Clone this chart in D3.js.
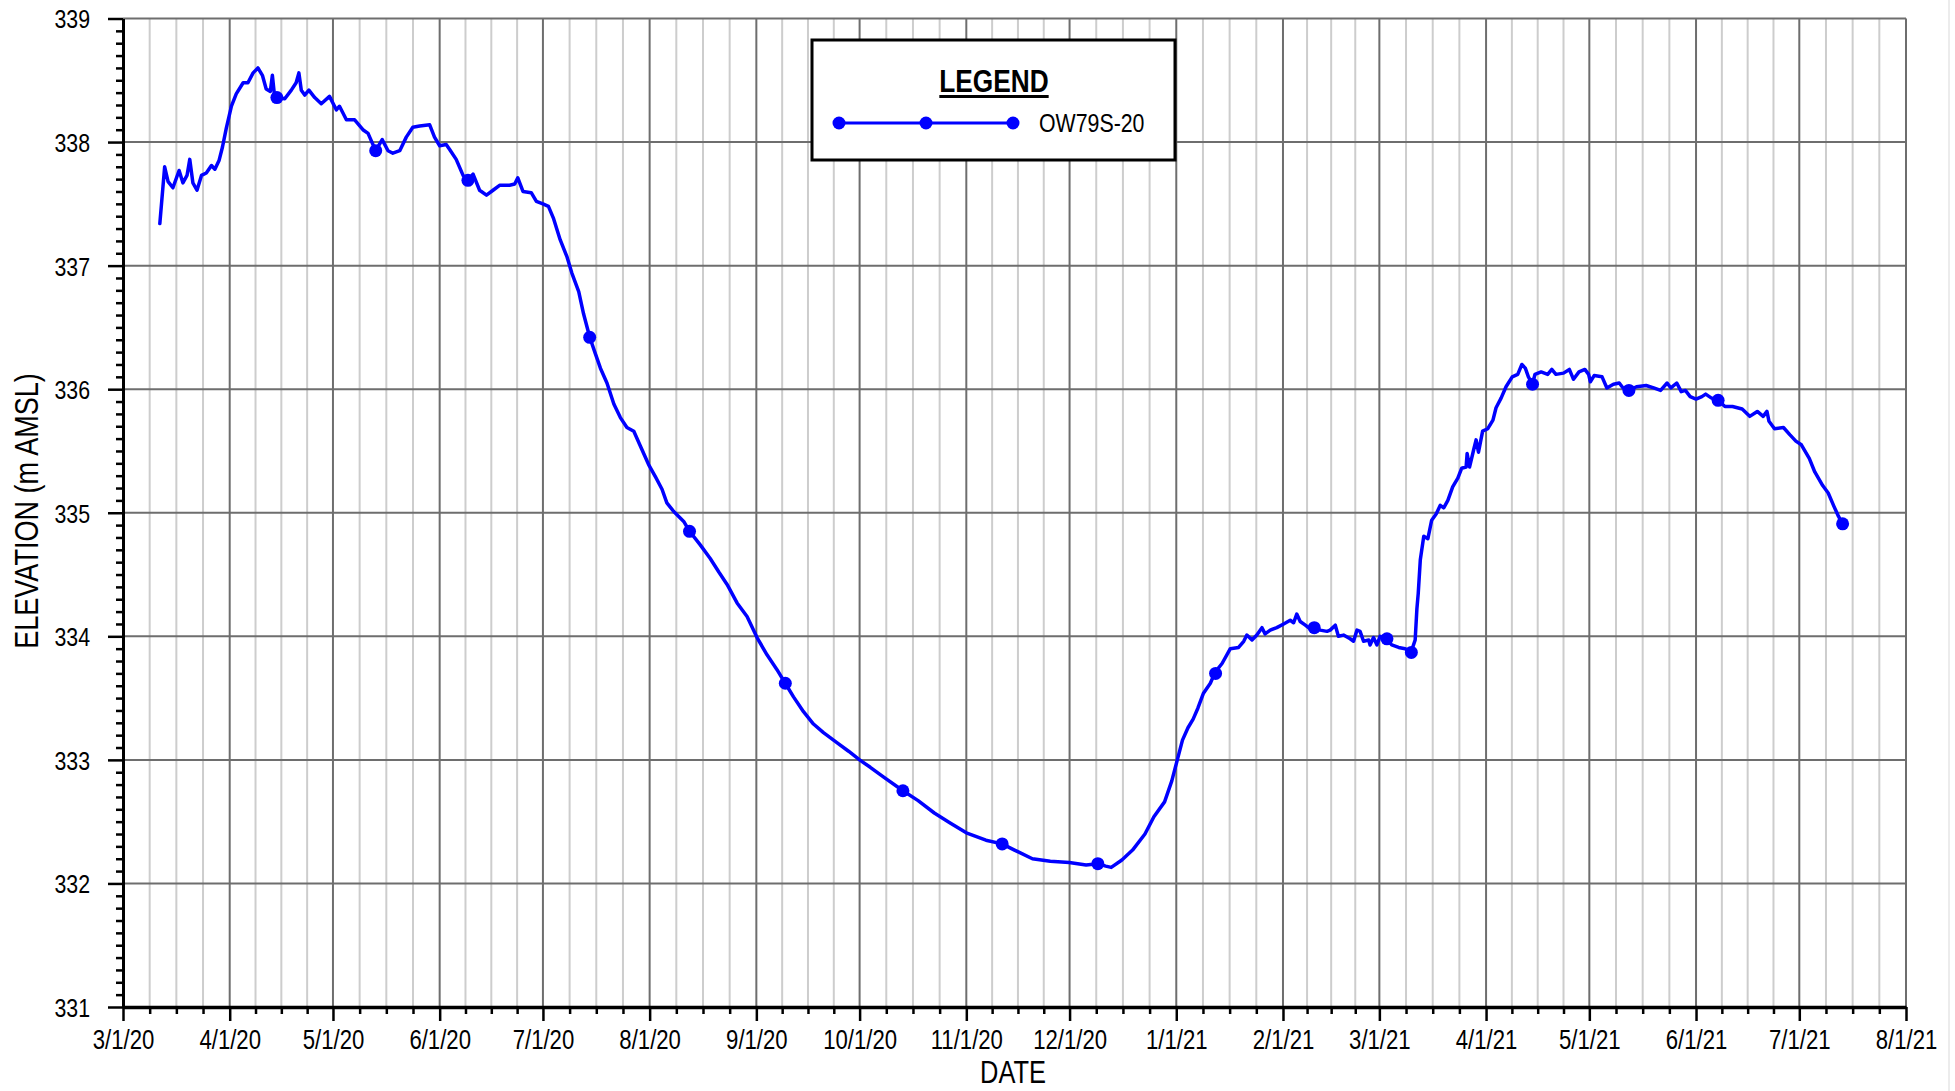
<!DOCTYPE html>
<html>
<head>
<meta charset="utf-8">
<title>OW79S-20 Elevation</title>
<script src="https://cdn.jsdelivr.net/npm/d3@7"></script>
<style>
  html, body { margin: 0; padding: 0; background: #ffffff; }
  svg { display: block; }
</style>
</head>
<body>
<svg id="chart" width="1955" height="1091"></svg>
<script>
// ---- Data -------------------------------------------------------------
// Transducer record: elapsed days since the record origin, and water level (m AMSL)
const recordStart = new Date(2020, 2, 1);
const loggerDays = [
  10.7, 12.1, 13.1, 14.5, 16.3, 17.4, 18.6, 19.4, 20.3, 21.5, 22.8, 24.2, 25.7, 26.7, 27.9, 28.9,
  30.0, 31.5, 32.9, 34.9, 36.3, 37.8, 39.2, 40.5, 41.6, 42.8, 43.4, 44.0, 44.7, 47.0, 48.9, 50.3,
  51.1, 51.8, 52.8, 54.0, 55.7, 57.6, 60.0, 62.0, 62.9, 64.9, 67.3, 69.7, 71.2, 73.4, 75.3, 77.0,
  78.4, 80.4, 82.3, 84.2, 86.2, 89.1, 90.5, 92.0, 93.9, 94.9, 96.8, 98.8, 100.2, 101.7, 103.6, 105.6,
  107.5, 109.4, 112.3, 113.8, 114.7, 116.2, 118.6, 120.1, 122.0, 123.6, 125.1, 127.0, 129.0, 130.4,
  132.4, 133.8, 135.6, 137.2, 138.7, 140.6, 142.6, 144.5, 146.4, 148.4, 150.3, 152.7, 154.7, 156.6,
  158.0, 160.0, 162.9, 164.6, 167.7, 170.6, 173.1, 175.5, 178.4, 181.3, 184.2, 187.1, 190.0, 192.4,
  194.8, 197.7, 200.6, 203.5, 207.4, 210.8, 214.0, 217.1, 221.0, 226.6, 231.0, 235.7, 240.3, 245.0,
  250.7, 255.4, 259.0, 264.2, 269.4, 274.9, 279.8, 283.2, 285.5, 287.1, 290.2, 293.3, 296.9, 299.5,
  302.6, 304.7, 306.3, 307.8, 309.4, 310.9, 312.3, 313.9, 315.9, 317.3, 319.3, 321.7, 324.1, 325.6,
  326.5, 328.0, 329.4, 330.9, 331.8, 333.3, 335.2, 337.2, 339.1, 340.1, 341.0, 342.0, 343.5, 344.4,
  346.1, 347.8, 349.8, 350.7, 352.2, 353.1, 354.6, 356.5, 357.5, 358.5, 359.4, 360.4, 361.9, 362.3,
  363.3, 364.3, 365.2, 367.2, 368.6, 370.6, 372.5, 374.2, 375.4, 375.9, 376.3, 376.9, 377.9, 379.1,
  380.2, 381.5, 382.7, 383.7, 384.9, 386.3, 387.8, 388.9, 390.2, 390.5, 391.2, 392.4, 393.1, 393.8,
  395.0, 396.5, 398.0, 398.9, 400.4, 401.8, 403.6, 405.2, 406.4, 407.4, 408.3, 409.5, 410.2, 412.0,
  413.9, 415.1, 416.3, 418.5, 420.2, 421.4, 423.0, 424.7, 425.8, 426.3, 427.4, 429.7, 431.1, 433.0,
  434.7, 435.8, 437.5, 439.7, 442.5, 444.7, 446.7, 448.6, 449.7, 451.4, 452.7, 453.9, 455.3, 457.0,
  458.7, 459.8, 461.4, 463.4, 465.4, 467.6, 470.4, 472.6, 474.8, 476.5, 477.6, 478.2, 479.8, 482.4,
  484.3, 486.0, 487.6, 489.9, 491.5, 493.8, 495.4, 497.1, 498.4, 499.6
];
const loggerLevels = [
  337.34, 337.80, 337.68, 337.63, 337.77, 337.67, 337.73, 337.86, 337.67, 337.61, 337.73, 337.75, 337.81, 337.78, 337.85, 337.96,
  338.11, 338.29, 338.39, 338.48, 338.48, 338.56, 338.60, 338.54, 338.43, 338.41, 338.54, 338.38, 338.36, 338.35, 338.42, 338.48,
  338.56, 338.42, 338.38, 338.42, 338.36, 338.31, 338.37, 338.26, 338.29, 338.18, 338.18, 338.10, 338.07, 337.93, 338.02, 337.93,
  337.91, 337.93, 338.04, 338.12, 338.13, 338.14, 338.04, 337.97, 337.98, 337.94, 337.86, 337.73, 337.69, 337.74, 337.61, 337.57,
  337.61, 337.65, 337.65, 337.66, 337.71, 337.60, 337.59, 337.52, 337.50, 337.48, 337.38, 337.21, 337.07, 336.94,
  336.79, 336.61, 336.42, 336.29, 336.17, 336.05, 335.88, 335.77, 335.69, 335.66, 335.54, 335.39, 335.29, 335.19,
  335.08, 335.01, 334.93, 334.85, 334.74, 334.63, 334.52, 334.42, 334.27, 334.16, 333.99, 333.85, 333.73, 333.62,
  333.51, 333.39, 333.29, 333.22, 333.14, 333.07, 333.00, 332.94, 332.86, 332.75, 332.67, 332.57, 332.49, 332.41,
  332.35, 332.32, 332.27, 332.20, 332.18, 332.17, 332.15, 332.16, 332.14, 332.13, 332.19, 332.27, 332.40, 332.54,
  332.66, 332.83, 333.00, 333.16, 333.26, 333.33, 333.42, 333.54, 333.62, 333.71, 333.78, 333.90, 333.91, 333.96,
  334.01, 333.97, 334.01, 334.07, 334.02, 334.05, 334.07, 334.10, 334.13, 334.11, 334.18, 334.12, 334.09, 334.07,
  334.07, 334.05, 334.04, 334.05, 334.09, 334.00, 334.01, 333.98, 333.96, 334.05, 334.04, 333.96, 333.97, 333.93,
  333.99, 333.93, 334.00, 333.98, 333.93, 333.91, 333.90, 333.87, 333.97, 334.22, 334.35, 334.62, 334.81, 334.79,
  334.94, 334.99, 335.06, 335.04, 335.10, 335.21, 335.28, 335.36, 335.37, 335.48, 335.37, 335.51, 335.59, 335.49,
  335.66, 335.68, 335.75, 335.85, 335.93, 336.02, 336.10, 336.12, 336.20, 336.17, 336.10, 336.04, 336.12, 336.14,
  336.12, 336.16, 336.12, 336.13, 336.16, 336.08, 336.14, 336.16, 336.12, 336.06, 336.11, 336.10, 336.01, 336.04,
  336.05, 336.01, 335.99, 336.02, 336.03, 336.01, 335.99, 336.05, 336.01, 336.05, 335.98, 335.99, 335.94, 335.92,
  335.94, 335.96, 335.93, 335.91, 335.86, 335.86, 335.84, 335.78, 335.82, 335.78, 335.82, 335.74, 335.68, 335.69,
  335.63, 335.58, 335.55, 335.44, 335.33, 335.22, 335.16, 335.05, 334.97, 334.91
];

// Manual water level measurements
const manualDates = [
  "2020-04-14T17:00", "2020-05-13T10:00", "2020-06-09T05:00", "2020-07-14T14:00",
  "2020-08-12T14:00", "2020-09-09T10:00", "2020-10-13T14:00", "2020-11-11T10:00",
  "2020-12-09T05:00", "2021-01-12T10:00", "2021-02-10T02:00", "2021-03-03T05:00",
  "2021-03-10T07:00", "2021-04-14T12:00", "2021-05-12T12:00", "2021-06-07T10:00",
  "2021-07-13T14:00"
];
const manualLevels = [
  338.36, 337.93, 337.69, 336.42, 334.85, 333.62, 332.75, 332.32,
  332.16, 333.70, 334.07, 333.98, 333.87, 336.04, 335.99, 335.91, 334.91
];

const seriesName = "OW79S-20";
const elevationTicks = [331, 332, 333, 334, 335, 336, 337, 338, 339];
const dateTicks = [
  "2020-03-01", "2020-04-01", "2020-05-01", "2020-06-01", "2020-07-01", "2020-08-01",
  "2020-09-01", "2020-10-01", "2020-11-01", "2020-12-01", "2021-01-01", "2021-02-01",
  "2021-03-01", "2021-04-01", "2021-05-01", "2021-06-01", "2021-07-01", "2021-08-01"
];

// ---- Layout & style ---------------------------------------------------
const W = 1955, H = 1091;
const plot = { left: 123, right: 1906, top: 18.5, bottom: 1007 };
const BLUE = "#0000ff";
const GRID_DARK = "#6e6e6e";
const GRID_LIGHT = "#cdcdcd";

// Narrow sans face; when it is not installed, regular Liberation Sans is squeezed horizontally.
function fontAvailable(name) {
  const c = document.createElement("canvas").getContext("2d");
  const s = "ELEVATION 0123456789 mmmwwwlli";
  c.font = "40px monospace";
  const a = c.measureText(s).width;
  c.font = `40px '${name}', monospace`;
  const b = c.measureText(s).width;
  return Math.abs(a - b) > 0.5;
}
const narrowOK = fontAvailable("Liberation Sans Narrow");
const FONT = narrowOK ? "'Liberation Sans Narrow', 'Arial Narrow', sans-serif"
                      : "'Liberation Sans', Arial, sans-serif";
function condense(sel) {
  if (narrowOK) return;
  sel.each(function () {
    const w = this.getComputedTextLength();
    this.setAttribute("textLength", (w * 0.82).toFixed(2));
    this.setAttribute("lengthAdjust", "spacingAndGlyphs");
  });
}

const parseDate = d3.timeParse("%Y-%m-%d");
const parseDateTime = d3.timeParse("%Y-%m-%dT%H:%M");
const months = dateTicks.map(parseDate);

const x = d3.scaleTime()
  .domain([months[0], months[months.length - 1]])
  .range([plot.left, plot.right]);
const y = d3.scaleLinear()
  .domain([331, 339])
  .range([plot.bottom, plot.top]);

const svg = d3.select("#chart")
  .attr("viewBox", `0 0 ${W} ${H}`)
  .style("font-family", FONT);

svg.append("rect").attr("width", W).attr("height", H).attr("fill", "#ffffff");

// quarter-month subdivisions between month starts
const quarterDates = [];
for (let i = 0; i < months.length - 1; i++) {
  const a = months[i].getTime(), b = months[i + 1].getTime();
  for (let k = 1; k < 4; k++) quarterDates.push(new Date(a + (b - a) * k / 4));
}

// ---- Grid -------------------------------------------------------------
const grid = svg.append("g").attr("class", "grid");
grid.selectAll("line.minor-v").data(quarterDates).join("line")
  .attr("class", "minor-v")
  .attr("x1", d => x(d)).attr("x2", d => x(d))
  .attr("y1", plot.top).attr("y2", plot.bottom)
  .attr("stroke", GRID_LIGHT).attr("stroke-width", 2);
grid.selectAll("line.major-v").data(months.slice(1)).join("line")
  .attr("class", "major-v")
  .attr("x1", d => x(d)).attr("x2", d => x(d))
  .attr("y1", plot.top).attr("y2", plot.bottom)
  .attr("stroke", GRID_DARK).attr("stroke-width", 2);
grid.selectAll("line.major-h").data(elevationTicks.slice(1)).join("line")
  .attr("class", "major-h")
  .attr("x1", plot.left).attr("x2", plot.right)
  .attr("y1", d => y(d)).attr("y2", d => y(d))
  .attr("stroke", GRID_DARK).attr("stroke-width", 2);

// ---- Axes -------------------------------------------------------------
const minorElev = d3.range(3310, 3391).filter(v => v % 10 !== 0).map(v => v / 10);

const yMinor = svg.append("g").attr("transform", `translate(${plot.left},0)`)
  .call(d3.axisLeft(y).tickValues(minorElev).tickSize(7).tickSizeOuter(0).tickFormat(""));
yMinor.select(".domain").remove();
yMinor.selectAll(".tick line").attr("stroke", "#000").attr("stroke-width", 2.5);

const yMajor = svg.append("g").attr("transform", `translate(${plot.left},0)`)
  .call(d3.axisLeft(y).tickValues(elevationTicks).tickSize(15).tickSizeOuter(0)
    .tickPadding(18).tickFormat(d3.format("d")));
yMajor.select(".domain").attr("stroke", "#000").attr("stroke-width", 3);
yMajor.selectAll(".tick line").attr("stroke", "#000").attr("stroke-width", 2.5);
yMajor.selectAll(".tick text")
  .attr("font-family", FONT).attr("font-size", 26).attr("fill", "#000")
  .attr("dy", "0.36em")
  .call(condense);

const xMinor = svg.append("g").attr("transform", `translate(0,${plot.bottom})`)
  .call(d3.axisBottom(x).tickValues(quarterDates).tickSize(7).tickSizeOuter(0).tickFormat(""));
xMinor.select(".domain").remove();
xMinor.selectAll(".tick line").attr("stroke", "#000").attr("stroke-width", 2.5);

const xMajor = svg.append("g").attr("transform", `translate(0,${plot.bottom})`)
  .call(d3.axisBottom(x).tickValues(months).tickSize(14).tickSizeOuter(0)
    .tickPadding(9).tickFormat(d3.timeFormat("%-m/%-d/%y")));
xMajor.select(".domain").attr("stroke", "#000").attr("stroke-width", 3.5);
xMajor.selectAll(".tick line").attr("stroke", "#000").attr("stroke-width", 2.5);
xMajor.selectAll(".tick text")
  .attr("font-family", FONT).attr("font-size", 27).attr("fill", "#000")
  .call(condense);

// Axis titles
svg.append("text")
  .attr("x", 1013).attr("y", 1083)
  .attr("text-anchor", "middle")
  .attr("font-size", 31).attr("fill", "#000")
  .text("DATE").call(condense);

svg.append("text")
  .attr("transform", "translate(38,511) rotate(-90)")
  .attr("text-anchor", "middle")
  .attr("font-size", 33).attr("fill", "#000")
  .text("ELEVATION (m AMSL)").call(condense);

// ---- Series -----------------------------------------------------------
const DAY = 86400000;
const loggerData = loggerDays.map((d, i) => ({
  t: new Date(recordStart.getTime() + d * DAY),
  v: loggerLevels[i]
}));
const manualData = manualDates.map((d, i) => ({ t: parseDateTime(d), v: manualLevels[i] }));

const line = d3.line().x(d => x(d.t)).y(d => y(d.v));
svg.append("path")
  .datum(loggerData)
  .attr("d", line)
  .attr("fill", "none")
  .attr("stroke", BLUE)
  .attr("stroke-width", 3.5)
  .attr("stroke-linejoin", "round")
  .attr("stroke-linecap", "round");

svg.append("g").selectAll("circle").data(manualData).join("circle")
  .attr("cx", d => x(d.t)).attr("cy", d => y(d.v))
  .attr("r", 6.5).attr("fill", BLUE);

// ---- Legend -----------------------------------------------------------
const lg = svg.append("g").attr("class", "legend");
lg.append("rect")
  .attr("x", 812).attr("y", 40).attr("width", 363).attr("height", 120)
  .attr("fill", "#ffffff").attr("stroke", "#000").attr("stroke-width", 3);
const title = lg.append("text")
  .attr("x", 994).attr("y", 92)
  .attr("text-anchor", "middle")
  .attr("font-size", 32).attr("font-weight", "bold").attr("fill", "#000")
  .text("LEGEND").call(condense);
const tb = title.node().getBBox();
lg.append("line")
  .attr("x1", tb.x).attr("x2", tb.x + tb.width)
  .attr("y1", 96.5).attr("y2", 96.5)
  .attr("stroke", "#000").attr("stroke-width", 2.8);

const legendX = [839, 926, 1013];
lg.append("line")
  .attr("x1", legendX[0]).attr("x2", legendX[2])
  .attr("y1", 123).attr("y2", 123)
  .attr("stroke", BLUE).attr("stroke-width", 3);
lg.selectAll("circle").data(legendX).join("circle")
  .attr("cx", d => d).attr("cy", 123).attr("r", 6.5).attr("fill", BLUE);
lg.append("text")
  .attr("x", 1039).attr("y", 132)
  .attr("font-size", 26).attr("fill", "#000")
  .text(seriesName).call(condense);

// faint frame edge on the right of the sheet
svg.append("line")
  .attr("x1", 1949).attr("x2", 1949).attr("y1", 0).attr("y2", H)
  .attr("stroke", "#d9d9d9").attr("stroke-width", 1);
</script>
</body>
</html>
